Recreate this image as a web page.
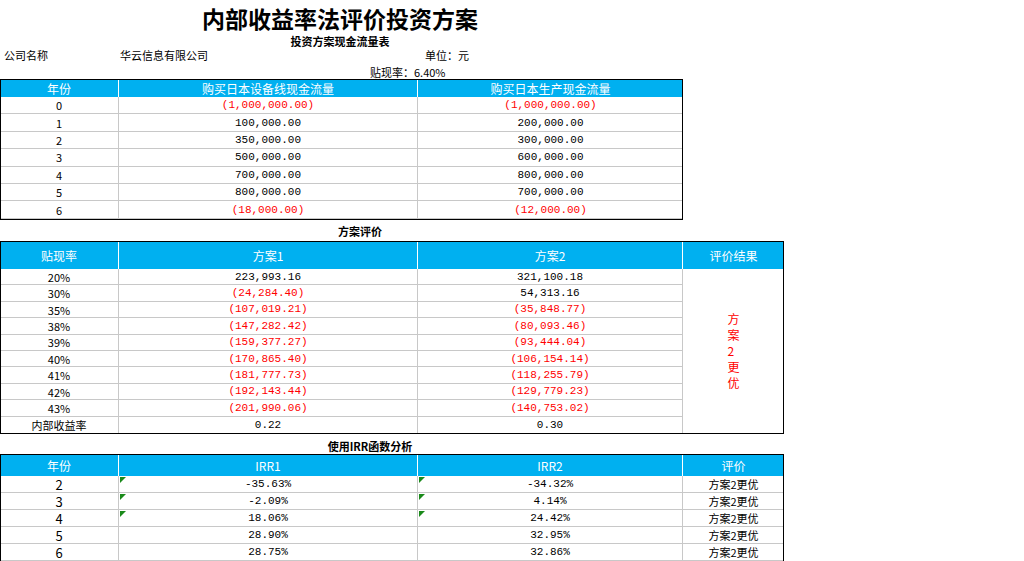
<!DOCTYPE html>
<html><head><meta charset="utf-8">
<script src="https://cdn.jsdelivr.net/npm/chart.js@4.4.0/dist/chart.umd.min.js"></script>
<style>
body{margin:0;width:1024px;height:561px;background:#fff;overflow:hidden;position:relative;font-family:"Noto Sans CJK SC","DejaVu Sans",sans-serif;}
.c{position:absolute;box-sizing:border-box;display:flex;align-items:center;justify-content:center;font-size:11px;color:#000;white-space:nowrap;}
.num{font-family:"Liberation Mono","DejaVu Sans Mono",monospace;font-size:11px;}
.red{color:#ff0000;}
.hd{background:#00b0f0;color:#fff;font-size:12px;}
.tri{position:absolute;width:0;height:0;border-top:6px solid #1a8a1a;border-right:6px solid transparent;}
</style></head><body>
<script>
const years=["0","1","2","3","4","5","6"];
const flowA=["(1,000,000.00)","100,000.00","350,000.00","500,000.00","700,000.00","800,000.00","(18,000.00)"];
const flowB=["(1,000,000.00)","200,000.00","300,000.00","600,000.00","800,000.00","700,000.00","(12,000.00)"];
const rates=["20%","30%","35%","38%","39%","40%","41%","42%","43%","内部收益率"];
const npv1=["223,993.16","(24,284.40)","(107,019.21)","(147,282.42)","(159,377.27)","(170,865.40)","(181,777.73)","(192,143.44)","(201,990.06)","0.22"];
const npv2=["321,100.18","54,313.16","(35,848.77)","(80,093.46)","(93,444.04)","(106,154.14)","(118,255.79)","(129,779.23)","(140,753.02)","0.30"];
const irrYears=["2","3","4","5","6"];
const irr1=["-35.63%","-2.09%","18.06%","28.90%","28.75%"];
const irr2=["-34.32%","4.14%","24.42%","32.95%","32.86%"];
const verdict=["方案2更优","方案2更优","方案2更优","方案2更优","方案2更优"];

function cell(x,y,w,h,t,cls,st){const d=document.createElement('div');d.className='c '+(cls||'');
Object.assign(d.style,{left:x+'px',top:y+'px',width:w+'px',height:h+'px'},st||{});d.textContent=t;document.body.appendChild(d);return d;}
function box(x,y,w,h,st){const d=document.createElement('div');d.style.position='absolute';d.style.boxSizing='border-box';
Object.assign(d.style,{left:x+'px',top:y+'px',width:w+'px',height:h+'px'},st);document.body.appendChild(d);return d;}
const isRed=s=>s.startsWith('(');
const grid='1px solid #c8c8c8';

cell(150,3,380,30,"内部收益率法评价投资方案","",{fontSize:'23px',fontWeight:'bold'});
cell(240,33,200,16,"投资方案现金流量表","",{fontSize:'11px',fontWeight:'bold'});
cell(4,47,60,16,"公司名称","",{justifyContent:'flex-start'});
cell(120,47,120,16,"华云信息有限公司","",{justifyContent:'flex-start'});
cell(425,47,60,16,"单位：元","",{justifyContent:'flex-start'});
cell(370,64,100,16,"贴现率：6.40%","",{justifyContent:'flex-start'});

// table 1
const c1=[0,119,418,683];
const h1=["年份","购买日本设备线现金流量","购买日本生产现金流量"];
for(let i=0;i<3;i++)cell(c1[i],79,c1[i+1]-c1[i],18,h1[i],'hd',{borderRight:i<2?'1px solid #fff':''});
for(let r=0;r<7;r++){const y=97+r*17.4;
 const v=[years[r],flowA[r],flowB[r]];
 for(let i=0;i<3;i++)cell(c1[i],y,c1[i+1]-c1[i],17.4,v[i],(i?'num ':'')+(isRed(v[i])?'red':''),{borderBottom:grid,borderRight:i<2?grid:''});}
box(0,79,683,141,{border:'1px solid #000'});

cell(300,223,120,16,"方案评价","",{fontWeight:'bold'});
// table 2
const c2=[0,119,418,683,784];
const h2=["贴现率","方案1","方案2","评价结果"];
for(let i=0;i<4;i++)cell(c2[i],241,c2[i+1]-c2[i],28,h2[i],'hd',{borderRight:i<3?'1px solid #fff':''});
for(let r=0;r<10;r++){const y=269+r*16.4;
 const v=[rates[r],npv1[r],npv2[r]];
 for(let i=0;i<3;i++)cell(c2[i],y,c2[i+1]-c2[i],16.4,v[i],(i?'num ':'')+(isRed(v[i])?'red':''),{borderBottom:r<9?grid:'',borderRight:grid});}
const vd=cell(683,269,101,164,"","red",{flexDirection:'column',lineHeight:'16px',fontSize:'12px'});
vd.innerHTML="方<br>案<br>2<br>更<br>优";
box(0,241,784,193,{border:'1px solid #000'});

cell(300,438,140,16,"使用IRR函数分析","",{fontWeight:'bold'});
// table 3
const h3=["年份","IRR1","IRR2","评价"];
for(let i=0;i<4;i++)cell(c2[i],454,c2[i+1]-c2[i],22,h3[i],'hd',{borderRight:i<3?'1px solid #fff':''});
for(let r=0;r<5;r++){const y=476+r*17;
 const v=[irrYears[r],irr1[r],irr2[r],verdict[r]];
 for(let i=0;i<4;i++)cell(c2[i],y,c2[i+1]-c2[i],17,v[i],i==1||i==2?'num':'',{borderBottom:grid,borderRight:i<3?grid:'',fontSize:i==0?'13px':'11px'});
 if(r<3){box(120,y+1,6,6,{}).className='tri';box(419,y+1,6,6,{}).className='tri';}}
box(0,454,784,110,{border:'1px solid #000'});
</script>
</body></html>
